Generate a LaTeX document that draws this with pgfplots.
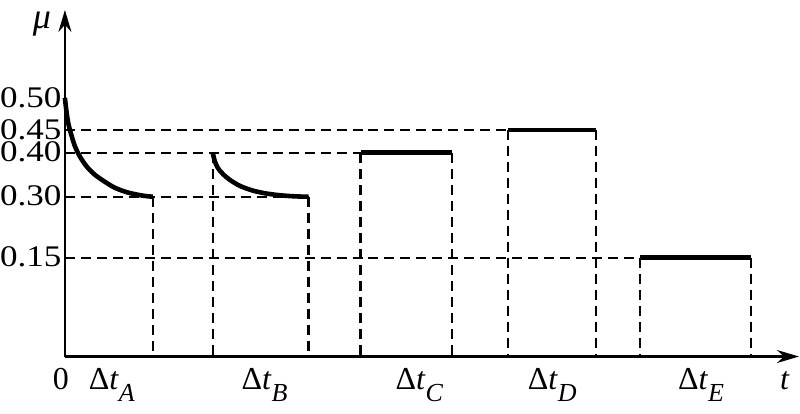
\documentclass[border=0pt]{standalone}
\usepackage{pgfplots}
\pgfplotsset{compat=1.18}
\usepackage{fontspec}
\setmainfont{Liberation Serif}[FakeStretch=1.17]
\newfontfamily\plainfont{Liberation Serif}
\usetikzlibrary{arrows.meta}
\newcommand{\dt}[1]{{\plainfont\fontsize{16}{18}\selectfont Δ\textit{t}\raisebox{-6pt}{\fontsize{13}{14}\selectfont\textit{#1}}}}
\begin{document}
\begin{tikzpicture}
\begin{axis}[
 x=0.5pt, y=0.5pt,
 xmin=0, xmax=735, ymin=0, ymax=347,
 axis lines=left,
 axis line style={line width=1.1pt, -{Stealth[length=11pt,width=6.5pt]}},
 xtick=\empty,
 ytick={99,160,204,227,259},
 yticklabels={0.15,0.30,0.40,0.45,0.50},
 major tick length=0pt,
 yticklabel style={font=\fontsize{15}{17}\selectfont, inner sep=0pt, xshift=-1.5pt, yshift=-1.2pt, text height=0.68em, text depth=0pt},
 clip=false,
 dsh/.style={black, line width=1.1pt, dash pattern=on 5pt off 3pt},
 thk/.style={black, line width=2.3pt},
]
% dashed horizontal guides
\addplot[dsh] coordinates {(0,227) (444,227)};
\addplot[dsh] coordinates {(0,204) (296,204)};
\addplot[dsh] coordinates {(0,160) (244,160)};
\addplot[dsh] coordinates {(0,99) (576,99)};
% dashed verticals
\addplot[dsh] coordinates {(88,160) (88,0)};
\addplot[dsh] coordinates {(148,204) (148,0)};
\addplot[dsh] coordinates {(244,160) (244,0)};
\addplot[dsh] coordinates {(296,204) (296,0)};
\addplot[dsh] coordinates {(388,204) (388,0)};
\addplot[dsh] coordinates {(444,227) (444,0)};
\addplot[dsh] coordinates {(532,227) (532,0)};
\addplot[dsh] coordinates {(576,99) (576,0)};
\addplot[dsh] coordinates {(687,99) (687,0)};
% A: decaying curve
\addplot[thk, smooth] coordinates {(0,259) (1,250) (2,242) (3.5,233) (5,227) (7,220) (9.5,212) (13,204) (17,197) (22,190) (30,182) (40,175) (50,169) (62,164.5) (73,162) (80,160.8) (88,160)};
% B: decaying curve
\addplot[thk, smooth] coordinates {(148,204) (150,196) (153,189) (158,183) (165,177) (175,171) (187,166.5) (200,163.5) (215,161.5) (230,160.4) (244,160)};
% C, D, E constant
\addplot[thk] coordinates {(296,204) (388,204)};
\addplot[thk] coordinates {(444,227) (532,227)};
\addplot[thk] coordinates {(576,99) (687,99)};
% labels
\node[anchor=base] at (axis cs:-4,-33) {\plainfont\fontsize{16}{18}\selectfont 0};
\node[anchor=base] at (axis cs:47,-33) {\dt{A}};
\node[anchor=base] at (axis cs:200,-33) {\dt{B}};
\node[anchor=base] at (axis cs:355,-33) {\dt{C}};
\node[anchor=base] at (axis cs:488,-33) {\dt{D}};
\node[anchor=base] at (axis cs:637,-33) {\dt{E}};
\node[anchor=base] at (axis cs:721,-33) {\plainfont\fontsize{16}{18}\selectfont\textit{t}};
\node[anchor=base] at (axis cs:-23,328) {\plainfont\fontsize{18}{20}\selectfont\textit{μ}};
\coordinate (bl) at (axis cs:-65,-57);
\coordinate (tr) at (axis cs:735,357);
\end{axis}
\path (bl) rectangle (tr);
\end{tikzpicture}
\end{document}
